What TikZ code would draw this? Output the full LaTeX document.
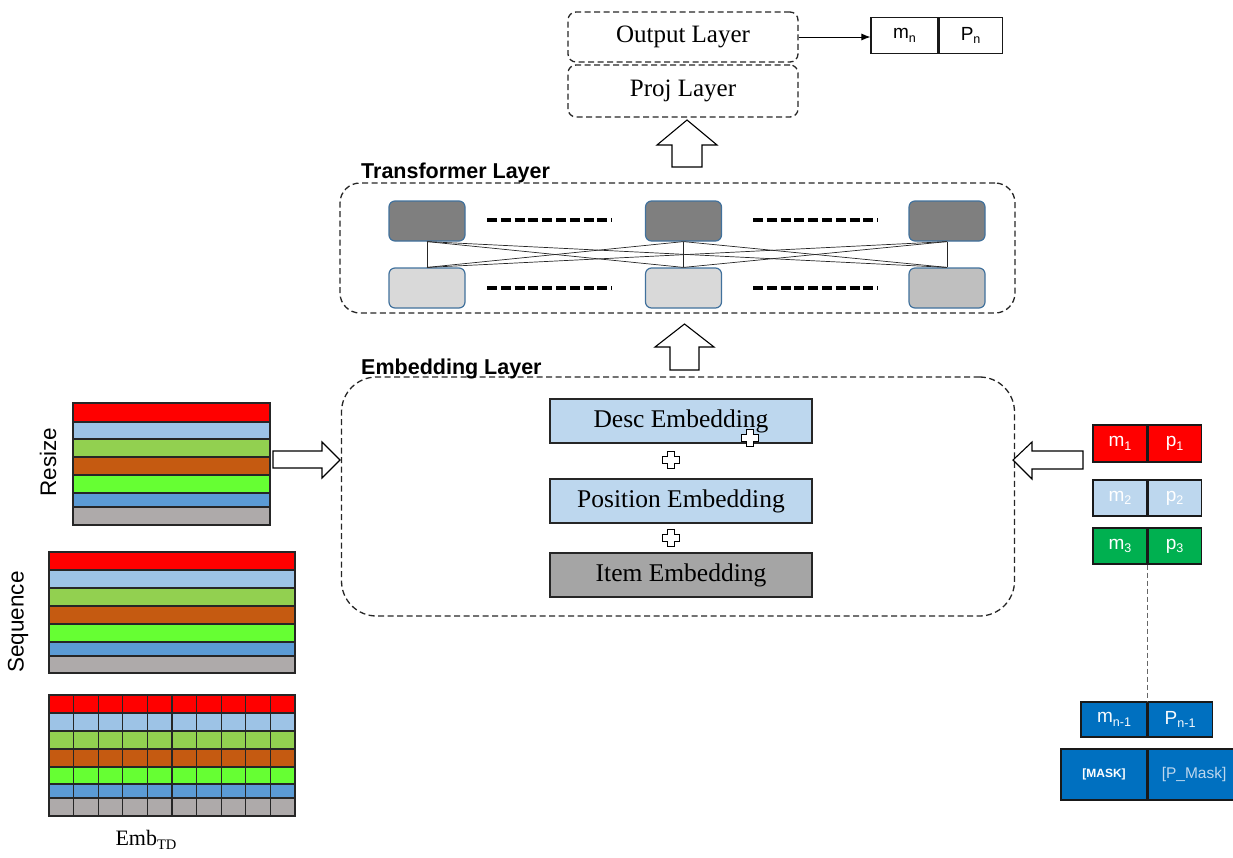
\documentclass[tikz,border=0pt]{standalone}
\usepackage{fontspec}
\setmainfont{Liberation Serif}
\setsansfont{Liberation Sans}
\usetikzlibrary{arrows.meta}
\newcommand\lowsub[1]{\raisebox{-0.35ex}{\scalebox{0.66}{#1}}}
\definecolor{cRed}{HTML}{FF0000}
\definecolor{cLBlue}{HTML}{9DC3E6}
\definecolor{cGreen}{HTML}{92D050}
\definecolor{cOrange}{HTML}{C55A11}
\definecolor{cLime}{HTML}{66FF33}
\definecolor{cBlue}{HTML}{5B9BD5}
\definecolor{cGray}{HTML}{AEAAAA}
\definecolor{paleBlue}{HTML}{BDD7EE}
\definecolor{itemGray}{HTML}{A5A5A5}
\definecolor{nodeEdge}{HTML}{41719C}
\definecolor{darkNode}{HTML}{7F7F7F}
\definecolor{lightNode}{HTML}{D9D9D9}
\definecolor{midNode}{HTML}{BFBFBF}
\definecolor{seqGreen}{HTML}{00B050}
\definecolor{maskBlue}{HTML}{0070C0}
\begin{document}
\begin{tikzpicture}[x=1pt,y=-1pt,
  layer/.style={draw=black!85, line width=1.3pt, dash pattern=on 6pt off 3.5pt,
    inner sep=0pt, font=\fontsize{25}{27}\selectfont},
  group/.style={draw=black!85, line width=1.3pt, dash pattern=on 6pt off 3.5pt, inner sep=0pt},
  grouplabel/.style={anchor=west, inner sep=0pt, font=\sffamily\bfseries\fontsize{21.5}{23}\selectfont},
  embbox/.style={draw=black!85, line width=1.3pt, inner sep=0pt,
    minimum width=262pt, minimum height=44pt, font=\fontsize{25.5}{27}\selectfont},
  tnode/.style={draw=nodeEdge, line width=1.2pt, rounded corners=6pt,
    minimum width=76pt, minimum height=40pt, inner sep=0pt},
  cell/.style={draw=black!90, line width=1.1pt, inner sep=0pt,
    font=\sffamily\fontsize{19}{21}\selectfont},
  blockarrow/.style={draw=black, line width=1.1pt, fill=white},
  stripe/.style={draw=black!85, line width=1.1pt},
  sidelabel/.style={rotate=90, inner sep=0pt, font=\sffamily\fontsize{22.5}{24}\selectfont},
  wire/.style={draw=black!85, line width=0.7pt},
  ellipsis/.style={draw=black, line width=3.6pt, dash pattern=on 10pt off 3.8pt}
]
\useasboundingbox (0,0) rectangle (1233,857);

% ---------- output head ----------
\node[layer, rounded corners=8pt, minimum width=230pt, minimum height=50pt] (out) at (683,37) {Output Layer};
\node[layer, rounded corners=8pt, minimum width=230pt, minimum height=52pt] (proj) at (683,91) {Proj Layer};
\node[cell, minimum width=67pt, minimum height=36pt] (mn) at (904.5,35.5) {m\lowsub{n}};
\node[cell, minimum width=63pt, minimum height=36pt, anchor=west] (pn) at (mn.east) {P\lowsub{n}};
\draw[line width=0.9pt, -{Latex[length=9pt,width=7pt]}] (out.east) -- (out.east -| mn.west);

% up arrow into the projection layer
\draw[blockarrow] (672,167) -- (672,145) -- (657,145) -- (687,120) -- (717,145) -- (702,145) -- (702,167) -- cycle;

% ---------- transformer layer ----------
\node[group, rounded corners=20pt, minimum width=675pt, minimum height=130pt] (tlayer) at (677.5,248) {};
\node[grouplabel] (tlabel) at (361,173) {Transformer Layer};
\node[tnode, fill=darkNode] (t1) at (427,221) {};
\node[tnode, fill=darkNode] (t2) at (683.5,221) {};
\node[tnode, fill=darkNode] (t3) at (947,221) {};
\node[tnode, fill=lightNode] (b1) at (427,288) {};
\node[tnode, fill=lightNode] (b2) at (683.5,288) {};
\node[tnode, fill=midNode] (b3) at (947,288) {};
\foreach \t in {t1,t2,t3}{
  \foreach \b in {b1,b2,b3}{
    \draw[wire] (\t.south) -- (\b.north);
  }
}
\draw[ellipsis] (487,220) -- (612,220);
\draw[ellipsis] (753,220) -- (878,220);
\draw[ellipsis] (487,288) -- (612,288);
\draw[ellipsis] (753,288) -- (878,288);

% up arrow into the transformer layer
\draw[blockarrow] (670,370) -- (670,347) -- (655,347) -- (684.5,324) -- (714,347) -- (699,347) -- (699,370) -- cycle;

% ---------- embedding layer ----------
\node[group, rounded corners=35pt, minimum width=673pt, minimum height=239pt] (elayer) at (678,496.5) {};
\node[grouplabel] (elabel) at (361,369) {Embedding Layer};
\node[embbox, fill=paleBlue] (desc) at (681,421) {Desc Embedding};
\node[embbox, fill=paleBlue] (pos) at (681,501) {Position Embedding};
\node[embbox, fill=itemGray] (item) at (681,575) {Item Embedding};

% outlined plus signs
\newcommand\plusmark[2]{%
  \draw[black, line width=1pt, fill=white]
    (#1-3.5,#2-8.5) -- (#1+3.5,#2-8.5) -- (#1+3.5,#2-3.5) -- (#1+8.5,#2-3.5) --
    (#1+8.5,#2+3.5) -- (#1+3.5,#2+3.5) -- (#1+3.5,#2+8.5) -- (#1-3.5,#2+8.5) --
    (#1-3.5,#2+3.5) -- (#1-8.5,#2+3.5) -- (#1-8.5,#2-3.5) -- (#1-3.5,#2-3.5) -- cycle;}
\plusmark{671}{460}
\plusmark{671}{538}
\plusmark{750}{438}

% ---------- left: embedding tables ----------
\def\stripecolors{cRed,cLBlue,cGreen,cOrange,cLime,cBlue,cGray}
% resized sequence
\foreach \c [count=\i] in \stripecolors {
  \pgfmathsetmacro\ya{{403,422,439,457,475,493,507,525}[\i-1]}
  \pgfmathsetmacro\yb{{403,422,439,457,475,493,507,525}[\i]}
  \draw[stripe, fill=\c] (73,\ya) rectangle (270,\yb);
}
\node[sidelabel] (rlabel) at (48,462) {Resize};
% full sequence
\foreach \c [count=\i] in \stripecolors {
  \pgfmathsetmacro\ya{{552,570,588,606,624,642,656,673}[\i-1]}
  \pgfmathsetmacro\yb{{552,570,588,606,624,642,656,673}[\i]}
  \draw[stripe, fill=\c] (49,\ya) rectangle (295,\yb);
}
\node[sidelabel] (slabel) at (18,622) {Sequence};
% token grid
\foreach \c [count=\i] in \stripecolors {
  \pgfmathsetmacro\ya{{695,713,731,749,767,784,798,816}[\i-1]}
  \pgfmathsetmacro\yb{{695,713,731,749,767,784,798,816}[\i]}
  \foreach \k in {0,...,9}{
    \draw[stripe, fill=\c] (49+24.6*\k,\ya) rectangle (49+24.6*\k+24.6,\yb);
  }
}
\node[font=\fontsize{22}{24}\selectfont, inner sep=0pt] (emblabel) at (146,840) {Emb\lowsub{TD}};

% arrow from resized table into the embedding layer
\draw[blockarrow] (273,451) -- (322,451) -- (322,442) -- (340,460) -- (322,478) -- (322,468) -- (273,468) -- cycle;

% ---------- right: item / position pairs ----------
\node[cell, fill=cRed, text=white, minimum width=54pt, minimum height=37pt] (m1) at (1120,443.5) {m\lowsub{1}};
\node[cell, fill=cRed, text=white, minimum width=53pt, minimum height=37pt, anchor=west] (p1) at (m1.east) {p\lowsub{1}};
\node[cell, fill=paleBlue, text=white, minimum width=54pt, minimum height=36pt] (m2) at (1120,498) {m\lowsub{2}};
\node[cell, fill=paleBlue, text=white, minimum width=53pt, minimum height=36pt, anchor=west] (p2) at (m2.east) {p\lowsub{2}};
\node[cell, fill=seqGreen, text=white, minimum width=54pt, minimum height=36pt] (m3) at (1120,546) {m\lowsub{3}};
\node[cell, fill=seqGreen, text=white, minimum width=53pt, minimum height=36pt, anchor=west] (p3) at (m3.east) {p\lowsub{3}};
\node[cell, fill=maskBlue, text=white!90!paleBlue, minimum width=66pt, minimum height=35pt] (mm) at (1114,719.5) {m\lowsub{n-1}};
\node[cell, fill=maskBlue, text=white!90!paleBlue, minimum width=64pt, minimum height=35pt, anchor=west] (pm) at (mm.east) {P\lowsub{n-1}};
\node[cell, fill=maskBlue, text=white, minimum width=86pt, minimum height=51pt,
  font=\sffamily\bfseries\fontsize{12}{14}\selectfont] (mask) at (1104,774.5) {[MASK]};
\node[cell, fill=maskBlue, text=paleBlue, minimum width=92pt, minimum height=51pt, anchor=west,
  font=\sffamily\fontsize{15.5}{17}\selectfont] (pmask) at (mask.east) {[P\_Mask]};
\draw[draw=black!60, line width=0.8pt, dash pattern=on 5pt off 3pt] (m3.south east) -- (mm.north east);

% arrow from the pairs into the embedding layer
\draw[blockarrow] (1083,451) -- (1032,451) -- (1032,442) -- (1013,460) -- (1032,479) -- (1032,469) -- (1083,469) -- cycle;
\end{tikzpicture}
\end{document}
